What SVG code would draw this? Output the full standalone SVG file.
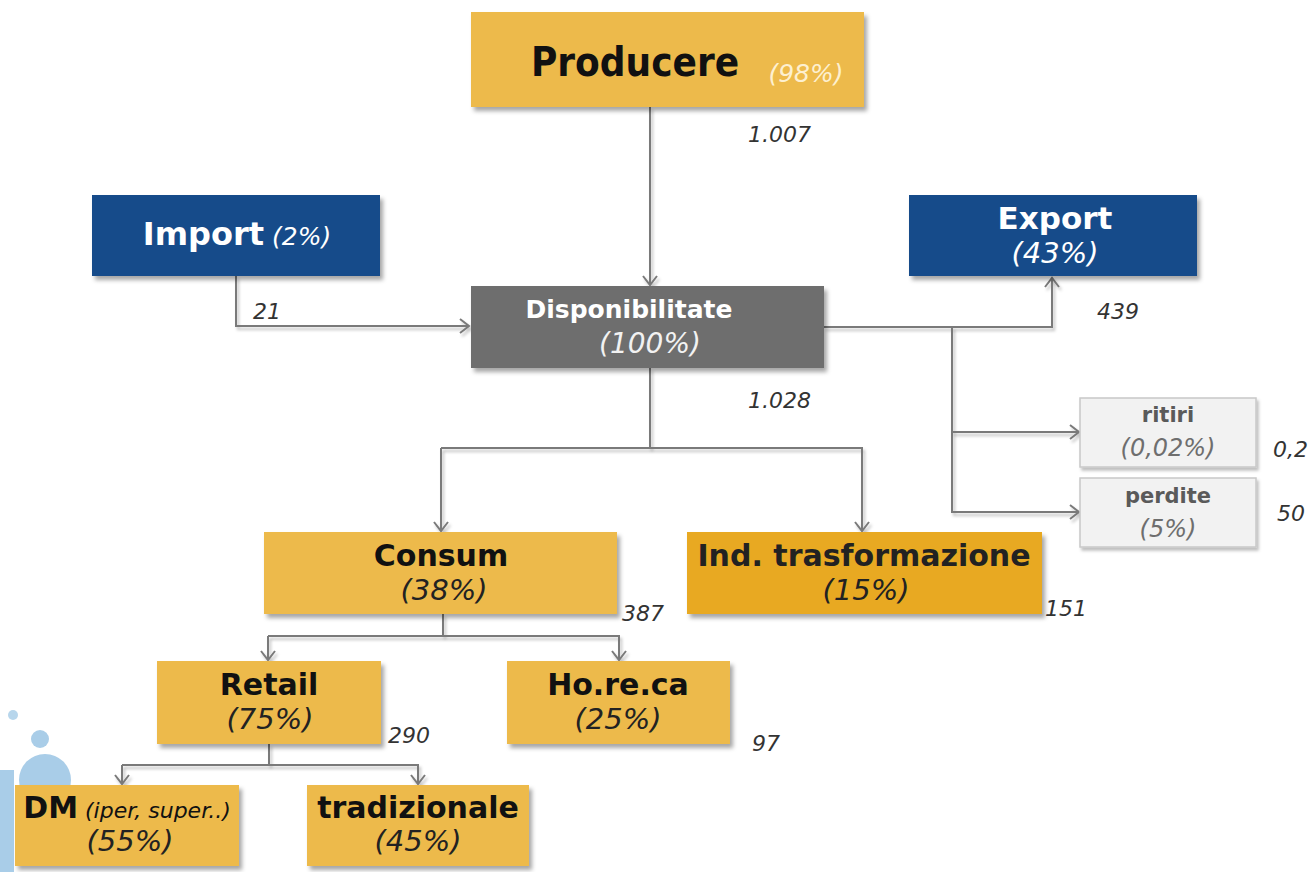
<svg xmlns="http://www.w3.org/2000/svg" width="1312" height="872" viewBox="0 0 1312 872">
<defs>
<filter id="sh" x="-10%" y="-10%" width="120%" height="130%">
<feDropShadow dx="3" dy="4" stdDeviation="2" flood-color="#000" flood-opacity="0.35"/>
</filter>
<filter id="lsh" filterUnits="userSpaceOnUse" x="0" y="0" width="1312" height="872">
<feDropShadow dx="2" dy="3" stdDeviation="1.5" flood-color="#000" flood-opacity="0.25"/>
</filter>
<marker id="arr" markerWidth="16" markerHeight="16" refX="11" refY="8" orient="auto" markerUnits="userSpaceOnUse">
<path d="M2,1 L11,8 L2,15" fill="none" stroke="#7a7a7a" stroke-width="2"/>
</marker>
<style>
text{font-family:"DejaVu Sans","Verdana",sans-serif;}
.cd{font-stretch:condensed;}
.b{font-weight:bold;}
.i{font-style:italic;}
.yel{fill:#EDBA4B;}
.org{fill:#E8A921;}
.blu{fill:#164B8A;}
.gry{fill:#6E6E6E;}
.lt{fill:#F2F2F2;stroke:#C8C8C8;stroke-width:1.5;}
.num{font-style:italic;font-size:22px;fill:#333;}
.ln{fill:none;stroke:#7a7a7a;stroke-width:2;filter:url(#lsh);}
</style>
</defs>
<rect width="1312" height="872" fill="#fff"/>

<g id="decor">
<circle cx="13" cy="715" r="5" fill="#B7D6EC"/>
<circle cx="40" cy="739" r="9" fill="#A9CDE8"/>
<circle cx="45" cy="780" r="26" fill="#A9CDE8"/>
<rect x="0" y="770" width="14" height="102" fill="#A9CDE8"/>
</g>

<g id="connectors">
<path class="ln" d="M650,107 V285" marker-end="url(#arr)"/>
<path class="ln" d="M236,276 V326 H469" marker-end="url(#arr)"/>
<path class="ln" d="M824,327 H1052 V278" marker-end="url(#arr)"/>
<path class="ln" d="M952,327 V512 H1079" marker-end="url(#arr)"/>
<path class="ln" d="M952,432 H1079" marker-end="url(#arr)"/>
<path class="ln" d="M650,368 V448"/>
<path class="ln" d="M441,448 H862 V531" marker-end="url(#arr)"/>
<path class="ln" d="M441,448 V531" marker-end="url(#arr)"/>
<path class="ln" d="M443,614 V636"/>
<path class="ln" d="M268,636 H619 V660" marker-end="url(#arr)"/>
<path class="ln" d="M268,636 V660" marker-end="url(#arr)"/>
<path class="ln" d="M269,744 V765"/>
<path class="ln" d="M122,765 V784" marker-end="url(#arr)"/>
<path class="ln" d="M122,765 H418 V784" marker-end="url(#arr)"/>
</g>

<g id="producere">
<rect x="471" y="12" width="393" height="95" class="yel" filter="url(#sh)"/>
<text x="635" y="76" text-anchor="middle" class="b cd" font-size="40" fill="#111">Producere</text>
<text x="806" y="82" text-anchor="middle" class="i" font-size="25" fill="#FDF0D0">(98%)</text>
<text x="748" y="142" class="num">1.007</text>
</g>

<g id="import">
<rect x="92" y="195" width="288" height="81" class="blu" filter="url(#sh)"/>
<text x="237" y="245" text-anchor="middle" fill="#fff"><tspan class="b" font-size="32">Import</tspan><tspan class="i" font-size="25"> (2%)</tspan></text>
<text x="253" y="319" class="num">21</text>
</g>

<g id="export">
<rect x="909" y="195" width="288" height="81" class="blu" filter="url(#sh)"/>
<text x="1055" y="229" text-anchor="middle" class="b" font-size="31" fill="#fff">Export</text>
<text x="1055" y="263" text-anchor="middle" class="i" font-size="29" fill="#fff">(43%)</text>
<text x="1097" y="319" class="num">439</text>
</g>

<g id="disponibilitate">
<rect x="471" y="286" width="353" height="82" class="gry" filter="url(#sh)"/>
<text x="629" y="318" text-anchor="middle" class="b" font-size="25" fill="#fff">Disponibilitate</text>
<text x="650" y="353" text-anchor="middle" class="i" font-size="28" fill="#F2F2F2">(100%)</text>
<text x="748" y="408" class="num">1.028</text>
</g>

<g id="ritiri">
<rect x="1080" y="398" width="176" height="69" class="lt" filter="url(#lsh)"/>
<text x="1168" y="422" text-anchor="middle" class="b" font-size="21" fill="#5A5A5A">ritiri</text>
<text x="1168" y="456" text-anchor="middle" class="i" font-size="24" fill="#6E6E6E">(0,02%)</text>
<text x="1273" y="457" class="num">0,2</text>
</g>

<g id="perdite">
<rect x="1080" y="478" width="176" height="69" class="lt" filter="url(#lsh)"/>
<text x="1168" y="503" text-anchor="middle" class="b" font-size="21" fill="#5A5A5A">perdite</text>
<text x="1168" y="537" text-anchor="middle" class="i" font-size="24" fill="#6E6E6E">(5%)</text>
<text x="1277" y="521" class="num">50</text>
</g>

<g id="consum">
<rect x="264" y="532" width="353" height="82" class="yel" filter="url(#sh)"/>
<text x="441" y="566" text-anchor="middle" class="b" font-size="30" fill="#111">Consum</text>
<text x="444" y="600" text-anchor="middle" class="i" font-size="29" fill="#222">(38%)</text>
<text x="622" y="621" class="num">387</text>
</g>

<g id="industria">
<rect x="687" y="532" width="355" height="82" class="org" filter="url(#sh)"/>
<text x="864" y="566" text-anchor="middle" class="b" font-size="30" fill="#222">Ind. trasformazione</text>
<text x="866" y="600" text-anchor="middle" class="i" font-size="29" fill="#222">(15%)</text>
<text x="1045" y="616" class="num">151</text>
</g>

<g id="retail">
<rect x="157" y="661" width="224" height="83" class="yel" filter="url(#sh)"/>
<text x="269" y="695" text-anchor="middle" class="b" font-size="30" fill="#111">Retail</text>
<text x="270" y="729" text-anchor="middle" class="i" font-size="29" fill="#222">(75%)</text>
<text x="388" y="743" class="num">290</text>
</g>

<g id="horeca">
<rect x="507" y="661" width="223" height="83" class="yel" filter="url(#sh)"/>
<text x="618" y="695" text-anchor="middle" class="b" font-size="30" fill="#111">Ho.re.ca</text>
<text x="618" y="729" text-anchor="middle" class="i" font-size="29" fill="#222">(25%)</text>
<text x="752" y="751" class="num">97</text>
</g>

<g id="dm">
<rect x="15" y="785" width="224" height="81" class="yel" filter="url(#sh)"/>
<text x="127" y="818" text-anchor="middle" fill="#111"><tspan class="b" font-size="30">DM</tspan><tspan class="i" font-size="22"> (iper, super..)</tspan></text>
<text x="130" y="851" text-anchor="middle" class="i" font-size="29" fill="#222">(55%)</text>
</g>

<g id="tradizionale">
<rect x="307" y="785" width="222" height="81" class="yel" filter="url(#sh)"/>
<text x="418" y="818" text-anchor="middle" class="b" font-size="30" fill="#111">tradizionale</text>
<text x="418" y="851" text-anchor="middle" class="i" font-size="29" fill="#222">(45%)</text>
</g>
</svg>
